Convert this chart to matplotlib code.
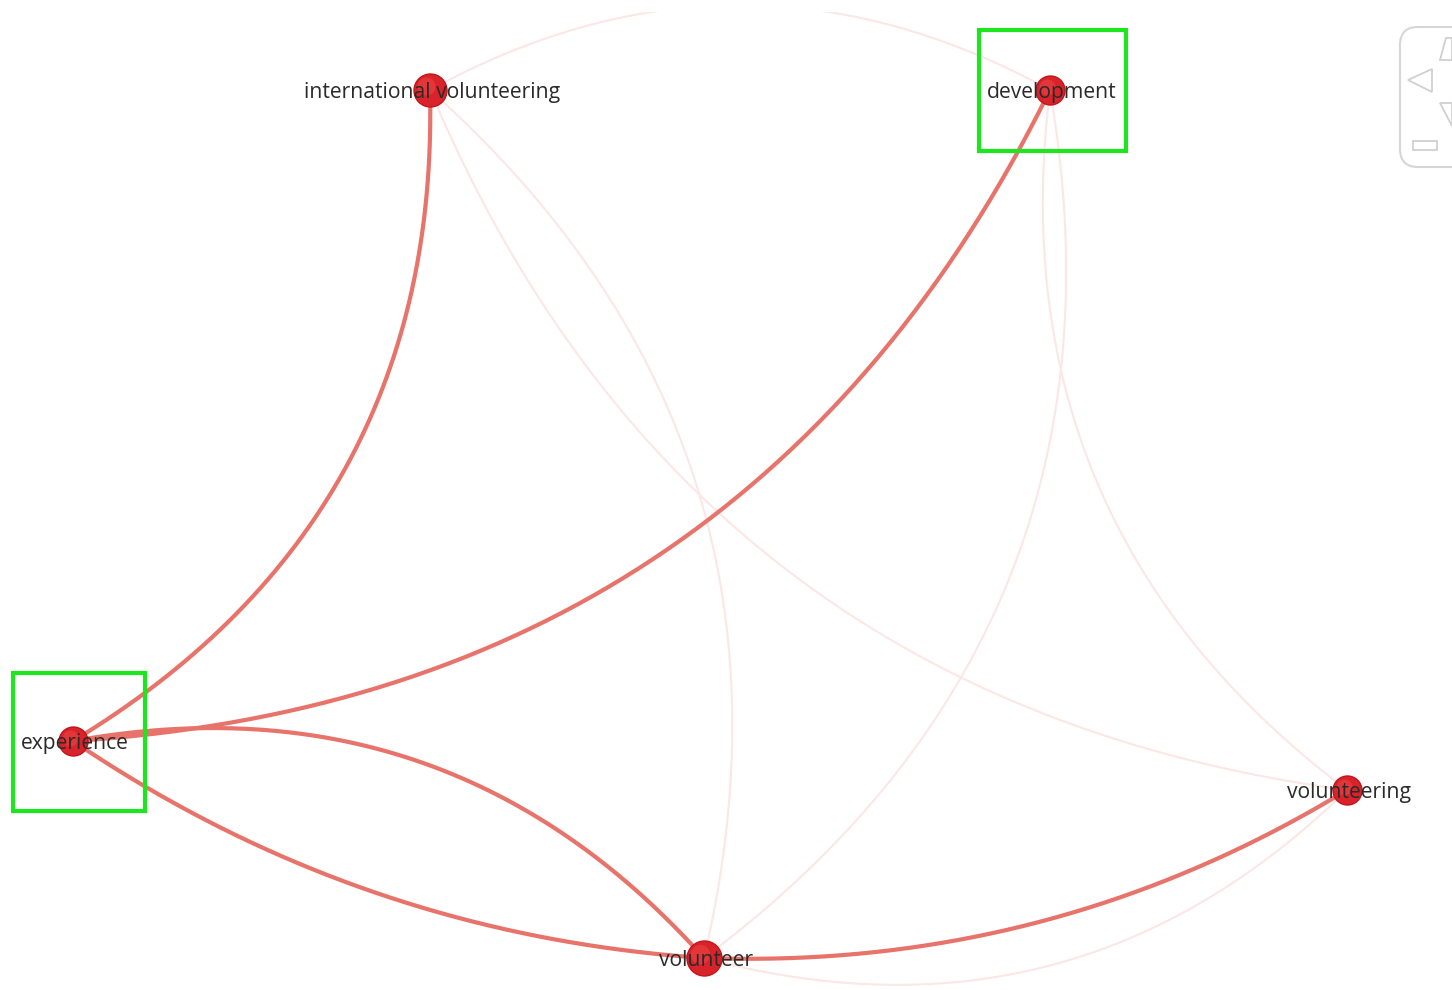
import numpy as np
import matplotlib
matplotlib.use("Agg")
import matplotlib.pyplot as plt
from matplotlib.patches import Rectangle, FancyBboxPatch, Polygon

# Node layout (screen coordinates of the network canvas)
nodeNames = ["international volunteering", "development", "experience", "volunteer", "volunteering"]
nodeX = [430, 1050, 73, 704, 1347]
nodeY = [90, 90, 741, 958, 790]
nodeSize = [33, 29, 29, 35, 29]

# Edges: source, target, strong link?, curvature (fraction of chord length)
edgeSrc = [2, 2, 2, 2, 3, 0, 0, 1, 1, 0, 3]
edgeDst = [0, 1, 3, 3, 4, 3, 4, 3, 4, 1, 4]
edgeStrong = [True, True, True, True, True, False, False, False, False, False, False]
edgeBend = [0.29, 0.29, -0.279, 0.135, 0.15, -0.297, 0.286, -0.306, 0.289, -0.274, 0.285]

# highlighted nodes (green boxes)
boxNodes = [1, 2]
boxW = [147, 132]
boxH = [121, 138]

plt.rcParams['font.family'] = ['Open Sans', 'DejaVu Sans']

fig = plt.figure(figsize=(14.52, 9.90), dpi=100)
ax = fig.add_axes([0, 0, 1, 978/990])
ax.set_xlim(0, 1452)
ax.set_ylim(990, 12)
ax.axis('off')

def bezier(p0, p2, bend, n=200):
    p0 = np.array(p0, float)
    p2 = np.array(p2, float)
    d = p2 - p0
    L = np.hypot(d[0], d[1])
    perp = np.array([-d[1], d[0]]) / L
    c = (p0 + p2) / 2 + bend * L * perp
    t = np.linspace(0, 1, n)[:, None]
    pts = (1-t)**2 * p0 + 2*t*(1-t) * c + t**2 * p2
    return pts[:, 0], pts[:, 1]

#faint links first, strong ones on top
for strongPass in [False, True]:
    for s, d, st, b in zip(edgeSrc, edgeDst, edgeStrong, edgeBend):
        if st != strongPass:
            continue
        xs, ys = bezier((nodeX[s], nodeY[s]), (nodeX[d], nodeY[d]), b)
        if st:
            ax.plot(xs, ys, color='#E8736A', lw=3.0, solid_capstyle='round', zorder=2)
        else:
            ax.plot(xs, ys, color='#FBE7E5', lw=1.5, solid_capstyle='round', zorder=1)

# nodes
for x, y, sz in zip(nodeX, nodeY, nodeSize):
    ax.scatter([x], [y], s=(sz*0.72)**2, color='#D8232A', edgecolors='#C4141C',
               linewidths=1.0, zorder=3)
    ax.scatter([x - sz*0.12], [y - sz*0.12], s=(sz*0.72*0.55)**2, color='#EC4442',
               linewidths=0, zorder=3, alpha=0.6)

for name, x, y in zip(nodeNames, nodeX, nodeY):
    ax.text(x + 2, y + 3, name, ha='center', va='center', fontsize=15.2,
            color='#2A2A2A', zorder=4)

for i, w, h in zip(boxNodes, boxW, boxH):
    off = 2 if i == 1 else 6
    ax.add_patch(Rectangle((nodeX[i] - w/2 + off, nodeY[i] - h/2 + 1), w, h, fill=False,
                           edgecolor='#1EE61E', lw=3.0, zorder=5))

# navigation widget in the corner (partly cut off)
ax.add_patch(FancyBboxPatch((1400, 27), 80, 140, boxstyle="round,pad=0,rounding_size=18",
                            fill=False, edgecolor='#D6D6D6', lw=1.5, clip_on=True, zorder=5))
ax.add_patch(Polygon([[1408, 80], [1432, 69], [1432, 92]], closed=True, fill=False,
                     edgecolor='#D0D0D0', lw=1.3, zorder=5))
ax.add_patch(Polygon([[1440, 60], [1452, 60], [1452, 38], [1446, 38]], closed=True, fill=False,
                     edgecolor='#D0D0D0', lw=1.3, zorder=5))
ax.add_patch(Polygon([[1440, 103], [1452, 103], [1452, 126]], closed=True, fill=False,
                     edgecolor='#D0D0D0', lw=1.3, zorder=5))
ax.add_patch(Rectangle((1413, 141), 24, 9, fill=False, edgecolor='#D0D0D0', lw=1.3, zorder=5))

plt.savefig('out.png', dpi=100)
